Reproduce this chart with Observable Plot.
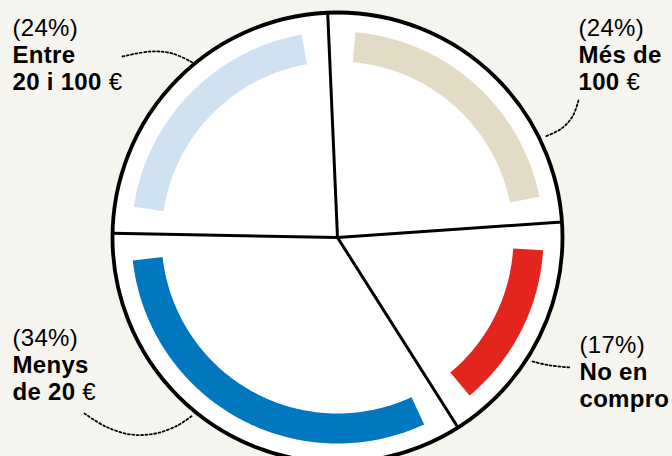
<!DOCTYPE html>
<html><head><meta charset="utf-8">
<script src="https://cdn.jsdelivr.net/npm/d3@7"></script>
<script src="https://cdn.jsdelivr.net/npm/@observablehq/plot@0.6"></script>
<style>
html,body{margin:0;padding:0;background:#f6f4ee;}
#chart{width:672px;height:456px;overflow:hidden;}
</style></head><body><div id="chart"></div>
<script>
// ---- data ----
const categories = ["Més de 100 €", "No en compro", "Menys de 20 €", "Entre 20 i 100 €"];
const shares = [24.6, 17.1, 34.3, 24.0];
const percentLabels = ["(24%)", "(17%)", "(34%)", "(24%)"];
const nameLines = [["Més de", "100 €"], ["No en", "compro"], ["Menys", "de 20 €"], ["Entre", "20 i 100 €"]];
const colors = ["#e2dcc6", "#e4251d", "#0077bf", "#d0e1f1"];

// ---- layout ----
const W = 672, H = 456, cx = 337, cy = 237, R = 225, rOut = 206, rIn = 176;
const startDeg = -2.5, insetDeg = 7.5;
const labelPos = [{x: 578, y: 89}, {x: 579, y: 406}, {x: 12, y: 399}, {x: 12, y: 89}];
const leaderPaths = [
  [[578, 100], [572, 116], [561, 128], [545, 136]],
  [[532, 361], [550, 365], [570, 367]],
  [[84, 413], [105, 426], [130, 434], [155, 433], [177, 425], [192, 415]],
  [[122, 56], [150, 51], [172, 53], [192, 62]]
];

const rad = d => d * Math.PI / 180;
const pt = (deg, r) => [cx + r * Math.sin(rad(deg)), cy - r * Math.cos(rad(deg))];

const total = d3.sum(shares);
let acc = startDeg;
const sectors = categories.map((c, i) => {
  const a0 = acc; acc += shares[i] / total * 360;
  return {key: c, i, a0, a1: acc, fillColor: colors[i]};
});

const bandPts = [];
for (const s of sectors) {
  const b0 = s.a0 + insetDeg, b1 = s.a1 - insetDeg;
  const n = Math.ceil(b1 - b0) * 2;
  const outer = d3.range(n + 1).map(k => b0 + (b1 - b0) * k / n);
  for (const a of outer) { const [x, y] = pt(a, rOut); bandPts.push({key: s.key, x, y, fillColor: s.fillColor}); }
  for (const a of outer.slice().reverse()) { const [x, y] = pt(a, rIn); bandPts.push({key: s.key, x, y, fillColor: s.fillColor}); }
}

const leaderPts = leaderPaths.flatMap((p, i) => p.map(([x, y]) => ({key: categories[i], x, y})));
const labels = categories.map((c, i) => ({key: c, x: labelPos[i].x, y: labelPos[i].y,
  text: [percentLabels[i], ...nameLines[i]].join("\n")}));

const center = [{x: cx, y: cy}];

const plot = Plot.plot({
  width: W, height: H, margin: 0,
  x: {domain: [0, W], range: [0, W], axis: null},
  y: {domain: [0, H], range: [0, H], axis: null},
  color: {type: "identity"},
  style: {background: "transparent", fontFamily: "'Liberation Sans', Arial, sans-serif", overflow: "hidden"},
  marks: [
    Plot.dot(center, {x: "x", y: "y", r: R, fill: "white", stroke: "none"}),
    Plot.line(bandPts, {x: "x", y: "y", z: "key", fill: "fillColor", stroke: "none", curve: "linear-closed"}),
    Plot.link(sectors, {x1: () => cx, y1: () => cy, x2: d => pt(d.a0, R)[0], y2: d => pt(d.a0, R)[1],
      stroke: "black", strokeWidth: 3}),
    Plot.dot(center, {x: "x", y: "y", r: R, fill: "none", stroke: "black", strokeWidth: 3.8}),
    Plot.line(leaderPts, {x: "x", y: "y", z: "key", curve: "catmull-rom", stroke: "black",
      strokeWidth: 1.8, strokeDasharray: "2,2.4"}),
    Plot.text(labels, {x: "x", y: "y", text: "text", textAnchor: "start", lineAnchor: "bottom",
      lineHeight: 1.12, fontSize: 24, fontWeight: "bold", fill: "black"})
  ]
});
document.getElementById("chart").appendChild(plot);

// mixed weights: percentages and euro signs in regular weight
d3.select(plot).selectAll("g[aria-label='text'] text").each(function() {
  const spans = d3.select(this).selectAll(":scope > tspan");
  d3.select(this).style("letter-spacing", "0.3px");
  spans.each(function(_, j) {
    const t = d3.select(this);
    if (j === 0) { t.attr("font-weight", "normal"); return; }
    const s = t.text();
    if (s.includes("€")) {
      t.text(s.replace("€", ""));
      t.append("tspan").attr("font-weight", "normal").text("€");
    }
  });
});
</script></body></html>
